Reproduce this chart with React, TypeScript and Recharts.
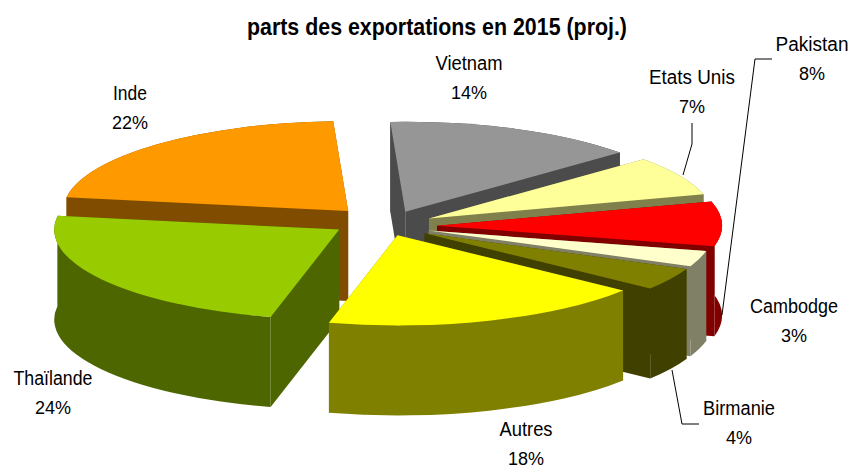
import { Pie, PieChart } from "recharts";

const categories = ["Vietnam", "Etats Unis", "Pakistan", "Cambodge", "Birmanie", "Autres", "Thaïlande", "Inde"];
// printed labels are rounded, decimals estimated from the slice angles
const shares = [14.4, 7.1, 8, 2.8, 4, 18.4, 23.6, 21.7];

const topColors = ["#969696", "#FFFF99", "#FF0000", "#FFFFCC", "#808000", "#FFFF00", "#99CC00", "#FF9900"];
const wallColors = ["#4B4B4B", "#80804D", "#800000", "#808066", "#404000", "#808000", "#4D6600", "#804D00"];
// how far each slice is pulled out of the pie, in px along its mid angle
const pullOut = [52, 50, 52, 46, 46, 38, 55, 55];
// small vertical nudge per slice, stands in for the perspective of the original
const nudge = [3, 2, 2, 2, 2, 0, -4, 0];
// back slices first, Autres sits in front of everything
const drawOrder = ["Inde", "Vietnam", "Etats Unis", "Pakistan", "Cambodge", "Birmanie", "Thaïlande", "Autres"];

const labelSpots: Record<string, { x: number; y: number; w: number; line?: string }> = {
  Vietnam: { x: 469, y: 70, w: 67 },
  "Etats Unis": { x: 692, y: 84, w: 86, line: "692,123 692,144 683,175" },
  Pakistan: { x: 812, y: 51, w: 73, line: "772,59 755,59 722,315" },
  Cambodge: { x: 794, y: 313, w: 88 },
  Birmanie: { x: 739, y: 415, w: 72, line: "672,370 682,424 699,424" },
  Autres: { x: 526, y: 436, w: 53 },
  Thaïlande: { x: 53, y: 385, w: 79 },
  Inde: { x: 130, y: 100, w: 34 },
};

const data = categories.map((name, i) => ({ name, value: shares[i] }));

const WIDTH = 852;
const HEIGHT = 468;
const TILT = 0.316;
const DEPTH = 90;
const RAD = Math.PI / 180;

function Slice(props: any, only: string) {
  const { cx, cy, outerRadius, startAngle, endAngle, index, name } = props;
  if (name !== only) return <g />;
  const rx = outerRadius;
  const ry = outerRadius * TILT;
  const mid = ((startAngle + endAngle) / 2) * RAD;
  const ax = cx + pullOut[index] * Math.cos(mid);
  const ay = cy - pullOut[index] * TILT * Math.sin(mid) + nudge[index];
  const px = (a: number) => ax + rx * Math.cos(a * RAD);
  const py = (a: number) => ay - ry * Math.sin(a * RAD);
  const x1 = px(startAngle);
  const y1 = py(startAngle);
  const x2 = px(endAngle);
  const y2 = py(endAngle);
  const top = `M${ax},${ay} L${x1},${y1} A${rx},${ry} 0 0 1 ${x2},${y2} Z`;
  const outer = `M${x1},${y1} A${rx},${ry} 0 0 1 ${x2},${y2} L${x2},${y2 + DEPTH} A${rx},${ry} 0 0 0 ${x1},${y1 + DEPTH} Z`;
  const sideA = `M${ax},${ay} L${x1},${y1} L${x1},${y1 + DEPTH} L${ax},${ay + DEPTH} Z`;
  const sideB = `M${ax},${ay} L${x2},${y2} L${x2},${y2 + DEPTH} L${ax},${ay + DEPTH} Z`;
  const wall = wallColors[index];
  return (
    <g>
      <path d={sideA} fill={wall} />
      <path d={sideB} fill={wall} />
      <path d={outer} fill={wall} />
      <path d={top} fill={topColors[index]} />
    </g>
  );
}

function SliceLabel(props: any) {
  const { name, value } = props;
  const spot = labelSpots[name];
  return (
    <g>
      {spot.line && <polyline points={spot.line} fill="none" stroke="#000" strokeWidth={1} />}
      <text
        x={spot.x}
        y={spot.y}
        textAnchor="middle"
        fontFamily="Liberation Sans"
        fontSize={20}
        fill="#000"
        textLength={spot.w}
        lengthAdjust="spacingAndGlyphs"
      >
        {name}
      </text>
      <text x={spot.x} y={spot.y + 29} textAnchor="middle" fontFamily="Liberation Sans" fontSize={18} fill="#000">
        {Math.round(value)}%
      </text>
    </g>
  );
}

export default function App() {
  return (
    <div style={{ position: "absolute", left: 0, top: 0, background: "#fff" }}>
      <PieChart width={WIDTH} height={HEIGHT} margin={{ top: 0, right: 0, bottom: 0, left: 0 }}>
        <text
          x={437}
          y={35}
          textAnchor="middle"
          fontFamily="Liberation Sans"
          fontWeight="bold"
          fontSize={23}
          fill="#000"
          textLength={380}
          lengthAdjust="spacingAndGlyphs"
        >
          parts des exportations en 2015 (proj.)
        </text>
        {drawOrder.map((only, i) => (
          <Pie
            key={only}
            data={data}
            dataKey="value"
            nameKey="name"
            cx={385}
            cy={224}
            innerRadius={0}
            outerRadius={285}
            startAngle={93}
            endAngle={-267}
            stroke="none"
            isAnimationActive={false}
            shape={(p: any) => Slice(p, only)}
            label={i === drawOrder.length - 1 ? SliceLabel : false}
            labelLine={false}
          />
        ))}
      </PieChart>
    </div>
  );
}
